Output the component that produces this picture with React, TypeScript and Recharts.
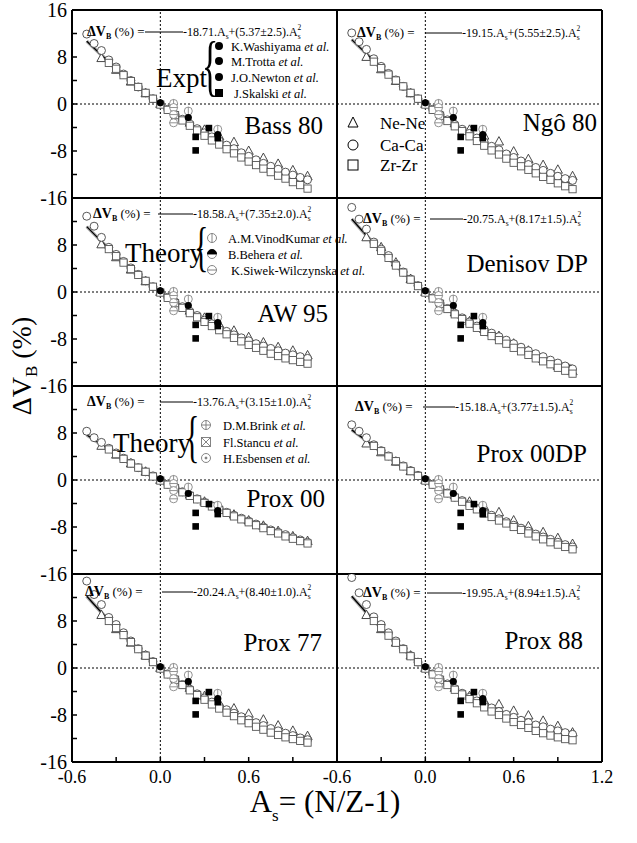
import React from "react";
import { ComposedChart, Scatter, Line, XAxis, YAxis, ReferenceLine } from "recharts";

// As = N/Z - 1 values of the isotopes in each system
const fitAs = [-0.5, -0.4, -0.3, -0.2, -0.1, 0, 0.1, 0.2, 0.3, 0.4, 0.5, 0.6, 0.7, 0.8, 0.9, 1.0];
const neAs = [-0.4, -0.3, -0.2, -0.1, 0, 0.1, 0.2, 0.3, 0.4, 0.5, 0.6, 0.7, 0.8, 0.9, 1.0];
const caAs = [-0.5, -0.45, -0.4, -0.35, -0.3, -0.25, -0.2, -0.15, -0.1, -0.05, 0, 0.05, 0.1, 0.15, 0.2, 0.25, 0.3, 0.35, 0.4, 0.45, 0.5, 0.55, 0.6, 0.65, 0.7, 0.75, 0.8, 0.85, 0.9, 0.95, 1.0];
const zrAs = [-0.35, -0.3, -0.25, -0.2, -0.15, -0.1, -0.05, 0, 0.05, 0.1, 0.15, 0.2, 0.25, 0.3, 0.35, 0.4, 0.45, 0.5, 0.55, 0.6, 0.65, 0.7, 0.75, 0.8, 0.85, 0.9, 0.95, 1.0];

// Bass 80
const bassFit = [10.7, 8.34, 6.1, 3.96, 1.92, 0, -1.82, -3.53, -5.13, -6.62, -8.01, -9.29, -10.47, -11.53, -12.49, -13.34];
const bassNe = [7.8, 5.8, 3.8, 1.8, 0.0, -1.7, -3.2, -4.4, -5.5, -6.5, -8.0, -9.2, -10.2, -11.3, -12.3];
const bassCa = [11.9, 10.3, 9.1, 7.5, 6.3, 5.1, 4.0, 2.9, 1.9, 0.9, 0.0, -0.9, -1.8, -2.6, -3.4, -4.2, -4.9, -5.6, -6.3, -7.0, -7.6, -8.3, -8.9, -9.5, -10.1, -10.6, -11.1, -11.6, -12.1, -12.5, -12.9];
const bassZr = [7.0, 6.0, 4.9, 3.9, 2.9, 1.9, 0.9, -0.1, -1.0, -1.9, -2.8, -3.7, -4.5, -5.4, -6.2, -6.9, -7.7, -8.4, -9.1, -9.8, -10.4, -11.0, -11.6, -12.2, -12.7, -13.3, -13.8, -14.4];

// Ngo 80
const ngoFit = [10.96, 8.55, 6.24, 4.05, 1.97, 0, -1.86, -3.61, -5.25, -6.77, -8.19, -9.49, -10.69, -11.77, -12.74, -13.6];
const ngoNe = [8.0, 5.9, 3.9, 1.8, 0.0, -1.7, -3.3, -4.4, -5.4, -6.4, -8.1, -9.4, -10.4, -11.2, -12.3];
const ngoCa = [12.1, 10.6, 9.3, 7.7, 6.4, 5.2, 4.1, 3.0, 1.9, 0.9, 0.0, -0.9, -1.8, -2.7, -3.5, -4.3, -5.0, -5.8, -6.5, -7.2, -7.8, -8.5, -9.1, -9.7, -10.3, -10.8, -11.3, -11.8, -12.3, -12.7, -13.0];
const ngoZr = [7.2, 6.1, 5.0, 4.0, 3.0, 1.9, 0.9, -0.1, -1.0, -2.0, -2.9, -3.8, -4.6, -5.5, -6.3, -7.1, -7.9, -8.6, -9.3, -10.0, -10.6, -11.2, -11.8, -12.4, -12.9, -13.5, -14.0, -14.5];

// AW 95
const awFit = [11.13, 8.61, 6.24, 4.01, 1.93, 0, -1.78, -3.42, -4.91, -6.26, -7.45, -8.5, -9.4, -10.16, -10.77, -11.23];
const awNe = [8.1, 5.9, 3.8, 1.8, 0.0, -1.6, -3.2, -4.4, -5.5, -6.6, -7.7, -8.6, -9.4, -10.0, -10.8];
const awCa = [12.9, 11.2, 9.3, 7.6, 6.4, 5.2, 4.1, 3.0, 1.9, 0.9, 0.0, -0.9, -1.7, -2.5, -3.3, -4.0, -4.8, -5.4, -6.1, -6.7, -7.3, -7.8, -8.3, -8.8, -9.2, -9.6, -10.0, -10.4, -10.7, -11.0, -11.3];
const awZr = [7.3, 6.1, 5.0, 3.9, 2.9, 1.9, 0.9, -0.1, -1.0, -1.9, -2.7, -3.6, -4.3, -5.1, -5.8, -6.5, -7.2, -7.8, -8.4, -9.0, -9.5, -10.0, -10.5, -10.9, -11.3, -11.6, -11.9, -12.2];

// Denisov DP
const denFit = [12.42, 9.61, 6.96, 4.48, 2.16, 0, -1.99, -3.82, -5.49, -6.99, -8.33, -9.51, -10.52, -11.37, -12.06, -12.58];
const denNe = [9.3, 7.6, 5.0, 2.2, 0.0, -1.8, -3.5, -5.0, -6.3, -7.5, -8.8, -10.0, -11.4, -12.6, -13.5];
const denCa = [14.4, 12.4, 10.7, 8.5, 7.3, 6.2, 4.7, 3.4, 2.2, 1.1, 0.0, -1.0, -1.9, -2.8, -3.6, -4.4, -5.1, -5.8, -6.4, -7.0, -7.6, -8.2, -8.8, -9.4, -10.0, -10.5, -11.0, -11.6, -12.1, -12.6, -13.1];
const denZr = [8.2, 7.0, 5.8, 4.5, 3.3, 2.1, 1.0, -0.1, -1.1, -2.0, -2.9, -3.8, -4.6, -5.4, -6.1, -6.8, -7.5, -8.2, -8.8, -9.5, -10.1, -10.7, -11.3, -11.8, -12.3, -12.9, -13.4, -13.9];

// Prox 00
const p00Fit = [7.67, 6.01, 4.41, 2.88, 1.41, 0, -1.34, -2.63, -3.84, -5.0, -6.09, -7.12, -8.09, -8.99, -9.83, -10.61];
const p00Ne = [5.8, 4.3, 2.8, 1.4, 0.0, -1.3, -2.5, -3.7, -4.8, -5.9, -6.9, -7.8, -8.7, -9.6, -10.4];
const p00Ca = [8.3, 7.2, 6.4, 5.4, 4.6, 3.7, 2.9, 2.1, 1.4, 0.7, 0.0, -0.7, -1.3, -2.0, -2.6, -3.2, -3.8, -4.4, -4.9, -5.5, -6.0, -6.5, -7.0, -7.5, -8.0, -8.5, -8.9, -9.3, -9.8, -10.2, -10.6];
const p00Zr = [5.2, 4.4, 3.6, 2.8, 2.1, 1.4, 0.6, -0.1, -0.8, -1.4, -2.1, -2.7, -3.3, -3.9, -4.5, -5.1, -5.6, -6.2, -6.7, -7.2, -7.7, -8.2, -8.7, -9.1, -9.6, -10.0, -10.4, -10.8];

// Prox 00DP
const pdpFit = [8.53, 6.68, 4.89, 3.19, 1.56, 0, -1.48, -2.89, -4.22, -5.47, -6.65, -7.75, -8.78, -9.73, -10.61, -11.41];
const pdpNe = [6.2, 4.7, 3.1, 1.5, 0.0, -1.3, -2.6, -3.7, -4.6, -5.5, -6.9, -7.9, -8.9, -9.9, -10.9];
const pdpCa = [9.4, 8.3, 7.2, 6.0, 5.0, 4.1, 3.2, 2.4, 1.6, 0.8, 0.0, -0.7, -1.5, -2.2, -2.9, -3.5, -4.2, -4.8, -5.4, -6.0, -6.6, -7.1, -7.7, -8.2, -8.7, -9.2, -9.7, -10.1, -10.6, -11.0, -11.4];
const pdpZr = [5.8, 4.9, 4.0, 3.2, 2.3, 1.5, 0.7, -0.1, -0.8, -1.6, -2.3, -3.0, -3.7, -4.4, -5.0, -5.7, -6.3, -6.9, -7.4, -8.0, -8.5, -9.1, -9.6, -10.1, -10.6, -11.0, -11.4, -11.8];

// Prox 77
const p77Fit = [12.22, 9.44, 6.83, 4.38, 2.11, 0, -1.94, -3.71, -5.32, -6.75, -8.02, -9.12, -10.05, -10.82, -11.41, -11.84];
const p77Ne = [9.0, 6.6, 4.3, 2.1, 0.0, -1.8, -3.4, -4.8, -6.0, -6.9, -7.8, -8.8, -9.8, -10.7, -11.6];
const p77Ca = [14.8, 12.5, 10.8, 8.6, 7.4, 6.0, 4.6, 3.3, 2.2, 1.1, 0.0, -1.0, -1.9, -2.8, -3.6, -4.4, -5.1, -5.8, -6.5, -7.1, -7.7, -8.3, -8.8, -9.3, -9.8, -10.3, -10.7, -11.1, -11.5, -11.9, -12.2];
const p77Zr = [8.0, 6.8, 5.6, 4.4, 3.2, 2.1, 1.0, -0.1, -1.1, -2.0, -2.9, -3.8, -4.6, -5.4, -6.2, -6.9, -7.6, -8.2, -8.9, -9.4, -10.0, -10.5, -11.0, -11.4, -11.8, -12.1, -12.4, -12.7];

// Prox 88
const p88Fit = [12.21, 9.41, 6.79, 4.35, 2.08, 0, -1.91, -3.63, -5.18, -6.55, -7.74, -8.75, -9.58, -10.24, -10.71, -11.01];
const p88Ne = [9.0, 6.6, 4.3, 2.1, 0.0, -1.8, -3.4, -4.8, -5.6, -6.2, -7.3, -8.1, -9.0, -9.9, -11.0];
const p88Ca = [15.4, 12.8, 10.8, 8.7, 7.4, 6.0, 4.6, 3.3, 2.1, 1.0, 0.0, -1.0, -1.9, -2.7, -3.5, -4.3, -5.0, -5.6, -6.3, -6.8, -7.4, -7.9, -8.4, -8.9, -9.3, -9.7, -10.0, -10.4, -10.7, -11.0, -11.3];
const p88Zr = [8.0, 6.8, 5.5, 4.3, 3.2, 2.0, 1.0, -0.1, -1.1, -2.0, -2.9, -3.7, -4.5, -5.3, -6.0, -6.7, -7.4, -8.0, -8.6, -9.2, -9.7, -10.2, -10.7, -11.1, -11.5, -11.8, -12.1, -12.3];

// experimental and other-theory points (same in every panel)
const exptCircAs = [0.0, 0.19, 0.39];
const exptCircV = [0.2, -2.3, -5.2];
const exptSqAs = [0.24, 0.24, 0.33, 0.39];
const exptSqV = [-5.6, -7.9, -4.1, -5.8];
const thVertAs = [0.09, 0.19, 0.39];
const thVertV = [0.1, -1.2, -4.3];
const thHorAs = [0.09, 0.09, 0.09];
const thHorV = [-0.6, -1.8, -3.2];

const xTicks = [-0.6, -0.3, 0, 0.3, 0.6, 0.9, 1.2];
const yTicks = [-16, -12, -8, -4, 0, 4, 8, 12, 16];

const zip = (xs: number[], ys: number[]) => xs.map((x, i) => ({ x, y: ys[i] }));

const panels = [
  { name: "Bass 80", row: 0, col: 0, fit: bassFit, ne: bassNe, ca: bassCa, zr: bassZr, b: "-18.71", a: "5.37±2.5" },
  { name: "Ngô 80", row: 0, col: 1, fit: ngoFit, ne: ngoNe, ca: ngoCa, zr: ngoZr, b: "-19.15", a: "5.55±2.5" },
  { name: "AW 95", row: 1, col: 0, fit: awFit, ne: awNe, ca: awCa, zr: awZr, b: "-18.58", a: "7.35±2.0" },
  { name: "Denisov DP", row: 1, col: 1, fit: denFit, ne: denNe, ca: denCa, zr: denZr, b: "-20.75", a: "8.17±1.5" },
  { name: "Prox 00", row: 2, col: 0, fit: p00Fit, ne: p00Ne, ca: p00Ca, zr: p00Zr, b: "-13.76", a: "3.15±1.0" },
  { name: "Prox 00DP", row: 2, col: 1, fit: pdpFit, ne: pdpNe, ca: pdpCa, zr: pdpZr, b: "-15.18", a: "3.77±1.5" },
  { name: "Prox 77", row: 3, col: 0, fit: p77Fit, ne: p77Ne, ca: p77Ca, zr: p77Zr, b: "-20.24", a: "8.40±1.0" },
  { name: "Prox 88", row: 3, col: 1, fit: p88Fit, ne: p88Ne, ca: p88Ca, zr: p88Zr, b: "-19.95", a: "8.94±1.5" },
];

// text placement of each panel's annotations
const formulaPos = [
  [87, 36, 145, 183], [357, 37, 425, 462], [93, 218, 158, 193], [363, 223, 430, 463],
  [87, 406, 160, 193], [355, 411, 423, 455], [85, 596, 162, 193], [363, 597, 427, 462],
];
const namePos = [
  [323, 134], [597, 131], [328, 322], [588, 272], [325, 507], [587, 462], [322, 651], [583, 649],
];

const PW = 265;
const PH = 188;
const LW = 40;
const RW = 40;
const MT = 12;
const COLX = [72, 337];
const ROWY = [10, 198, 386, 574];

const Tri = (p: any) => (
  <polygon points={`${p.cx},${p.cy - 5} ${p.cx - 4.6},${p.cy + 3.4} ${p.cx + 4.6},${p.cy + 3.4}`} fill="#fff" stroke="#333" strokeWidth={0.9} />
);
const Circ = (p: any) => <circle cx={p.cx} cy={p.cy} r={4} fill="#fff" stroke="#444" strokeWidth={0.9} />;
const Sq = (p: any) => <rect x={p.cx - 3.6} y={p.cy - 3.6} width={7.2} height={7.2} fill="#fff" stroke="#555" strokeWidth={0.9} />;
const ThVert = (p: any) => (
  <g stroke="#777" strokeWidth={0.8} fill="none">
    <circle cx={p.cx} cy={p.cy} r={4} fill="#fff" />
    <line x1={p.cx} x2={p.cx} y1={p.cy - 4} y2={p.cy + 4} />
  </g>
);
const ThHor = (p: any) => (
  <g stroke="#777" strokeWidth={0.8} fill="none">
    <circle cx={p.cx} cy={p.cy} r={4} fill="#fff" />
    <line x1={p.cx - 4} x2={p.cx + 4} y1={p.cy} y2={p.cy} />
  </g>
);
const ExCirc = (p: any) => <circle cx={p.cx} cy={p.cy} r={3.6} fill="#000" />;
const ExSq = (p: any) => <rect x={p.cx - 3.3} y={p.cy - 3.3} width={6.6} height={6.6} fill="#000" />;

const axisLine = { stroke: "#000", strokeWidth: 2 };
const tickLine = { stroke: "#000", strokeWidth: 1.5 };

function Panel({ p }: { p: any }) {
  const bottomRow = p.row === 3;
  const BH = bottomRow ? 30 : 1;
  const isLeft = p.col === 0;
  const yFmt = (v: number) =>
    v === -16 || v === -8 || v === 0 || v === 8 || (v === 16 && p.row === 0) ? String(v) : "";
  const xLabels = isLeft ? [-0.6, 0, 0.6] : [-0.6, 0, 0.6, 1.2];
  const xFmt = (v: number) => (xLabels.some((l) => Math.abs(l - v) < 1e-6) ? v.toFixed(1) : "");
  const yTickStyle = { fill: "#000", fontSize: 20 };
  return (
    <div style={{ position: "absolute", left: COLX[p.col] - LW, top: ROWY[p.row] - MT }}>
      <ComposedChart
        width={LW + PW + RW}
        height={MT + PH + BH + 12}
        margin={{ top: MT - 1, right: 0, bottom: 12, left: 0 }}
      >
        <XAxis
          type="number" dataKey="x" domain={[-0.6, 1.2]} ticks={xTicks} interval={0} allowDataOverflow
          orientation="bottom" height={BH} axisLine={axisLine} tickLine={tickLine} tickSize={-5} tickMargin={13}
          tick={bottomRow ? { fill: "#000", fontSize: 18 } : false} tickFormatter={xFmt}
        />
        <XAxis
          xAxisId="top" type="number" dataKey="x" domain={[-0.6, 1.2]} ticks={xTicks} interval={0}
          orientation="top" height={1} axisLine={axisLine} tickLine={tickLine} tickSize={-5} tick={false}
        />
        <YAxis
          type="number" dataKey="y" domain={[-16, 16]} ticks={yTicks} interval={0} allowDataOverflow
          orientation="left" width={LW} axisLine={axisLine} tickLine={tickLine} tickSize={-5} tickMargin={10}
          tick={isLeft ? yTickStyle : false} tickFormatter={yFmt}
        />
        <YAxis
          yAxisId="right" type="number" dataKey="y" domain={[-16, 16]} ticks={yTicks} interval={0}
          orientation="right" width={RW} axisLine={axisLine} tickLine={tickLine} tickSize={-5} tickMargin={12}
          tick={isLeft ? false : yTickStyle} tickFormatter={yFmt}
        />
        <ReferenceLine y={0} stroke="#000" strokeWidth={1} strokeDasharray="2 2" />
        <ReferenceLine x={0} stroke="#000" strokeWidth={1} strokeDasharray="2 2" />
        <Line data={zip(fitAs, p.fit)} dataKey="y" type="monotone" stroke="#b0b0b0" strokeWidth={3.5} dot={false} isAnimationActive={false} />
        <Line data={zip(fitAs, p.fit)} dataKey="y" type="monotone" stroke="#000" strokeWidth={1.3} dot={false} isAnimationActive={false} />
        <Scatter data={zip(neAs, p.ne)} shape={Tri} isAnimationActive={false} />
        <Scatter data={zip(caAs, p.ca)} shape={Circ} isAnimationActive={false} />
        <Scatter data={zip(zrAs, p.zr)} shape={Sq} isAnimationActive={false} />
        <Scatter data={zip(thVertAs, thVertV)} shape={ThVert} isAnimationActive={false} />
        <Scatter data={zip(thHorAs, thHorV)} shape={ThHor} isAnimationActive={false} />
        <Scatter data={zip(exptSqAs, exptSqV)} shape={ExSq} isAnimationActive={false} />
        <Scatter data={zip(exptCircAs, exptCircV)} shape={ExCirc} isAnimationActive={false} />
      </ComposedChart>
    </div>
  );
}

function Formula({ pos, b, a }: { pos: number[]; b: string; a: string }) {
  const [x, y, l1, l2] = pos;
  return (
    <g>
      <text x={x} y={y} fontSize={14}>
        <tspan fontWeight="bold">ΔV</tspan>
        <tspan fontWeight="bold" fontSize={8} dy={3}>B</tspan>
        <tspan fontSize={13} dy={-3}> (%) =</tspan>
      </text>
      <line x1={l1} x2={l2} y1={y - 4} y2={y - 4} stroke="#000" strokeWidth={1} />
      <text x={l2} y={y} fontSize={12}>
        {b}.A<tspan fontSize={7.5} dy={2.5}>s</tspan>
        <tspan dy={-2.5}>+({a}).A</tspan>
        <tspan fontSize={7.5} dy={2.5}>s</tspan>
        <tspan fontSize={7.5} dx={-3} dy={-9}>2</tspan>
      </text>
    </g>
  );
}

function Brace({ x, y, fs, sy }: { x: number; y: number; fs: number; sy: number }) {
  return (
    <text transform={`translate(${x},${y}) scale(1,${sy})`} fontSize={fs}>
      {"{"}
    </text>
  );
}

function Ref({ x, y, name, dx = 0 }: { x: number; y: number; name: string; dx?: number }) {
  return (
    <text x={x + dx} y={y + 4.5} fontSize={12.5}>
      {name}
      <tspan fontStyle="italic">et al.</tspan>
    </text>
  );
}

function Overlay() {
  const g = "#777";
  return (
    <svg width={637} height={843} style={{ position: "absolute", left: 0, top: 0, pointerEvents: "none" }}>
      {panels.map((p, i) => (
        <Formula key={"f" + i} pos={formulaPos[i]} b={p.b} a={p.a} />
      ))}
      {panels.map((p, i) => (
        <text key={"n" + i} x={namePos[i][0]} y={namePos[i][1]} fontSize={25} textAnchor="end">
          {p.name}
        </text>
      ))}

      {/* Expt legend */}
      <text x={156} y={87} fontSize={27}>Expt</text>
      <Brace x={202} y={88} fs={34} sy={2} />
      <circle cx={219} cy={46} r={4} fill="#000" />
      <circle cx={219} cy={61} r={4} fill="#000" />
      <circle cx={219} cy={77} r={4} fill="#000" />
      <rect x={215} y={89} width={8} height={8} fill="#000" />
      <Ref x={231} y={46} name="K.Washiyama " />
      <Ref x={231} y={61} name="M.Trotta " />
      <Ref x={231} y={77} name="J.O.Newton " />
      <Ref x={231} y={93} name="J.Skalski " dx={3} />

      {/* system legend */}
      <polygon points="353,117 348,127 358,127" fill="#fff" stroke="#000" strokeWidth={1} />
      <circle cx={353} cy={145} r={5} fill="#fff" stroke="#000" strokeWidth={1} />
      <rect x={348} y={160} width={10} height={10} fill="#fff" stroke="#000" strokeWidth={1} />
      <text x={380} y={129} fontSize={17}>Ne-Ne</text>
      <text x={380} y={151} fontSize={17}>Ca-Ca</text>
      <text x={380} y={171} fontSize={17}>Zr-Zr</text>

      {/* Theory legend 1 */}
      <text x={125} y={262} fontSize={27}>Theory</text>
      <Brace x={194} y={265} fs={30} sy={1.8} />
      <g stroke={g} strokeWidth={0.9} fill="#fff">
        <circle cx={212} cy={238} r={4.5} />
        <line x1={212} x2={212} y1={233.5} y2={242.5} />
        <circle cx={212} cy={254} r={4.5} />
        <path d="M207.5,254 A4.5,4.5 0 0 1 216.5,254 Z" fill="#000" stroke="#000" />
        <circle cx={212} cy={270} r={4.5} />
        <line x1={207.5} x2={216.5} y1={270} y2={270} />
      </g>
      <Ref x={228} y={238} name="A.M.VinodKumar " />
      <Ref x={228} y={254} name="B.Behera " />
      <Ref x={228} y={270} name="K.Siwek-Wilczynska " dx={3} />

      {/* Theory legend 2 */}
      <text x={113} y={452} fontSize={27}>Theory</text>
      <Brace x={185} y={456} fs={30} sy={1.9} />
      <g stroke={g} strokeWidth={0.9} fill="#fff">
        <circle cx={206} cy={425} r={4.5} />
        <line x1={206} x2={206} y1={420.5} y2={429.5} />
        <line x1={201.5} x2={210.5} y1={425} y2={425} />
        <rect x={201.5} y={437.5} width={9} height={9} />
        <line x1={201.5} x2={210.5} y1={437.5} y2={446.5} />
        <line x1={210.5} x2={201.5} y1={437.5} y2={446.5} />
        <circle cx={206} cy={458} r={4.5} />
        <circle cx={206} cy={458} r={1} fill={g} />
      </g>
      <Ref x={223} y={425} name="D.M.Brink " />
      <Ref x={223} y={442} name="Fl.Stancu " />
      <Ref x={223} y={458} name="H.Esbensen " />

      {/* axis titles */}
      <text transform="translate(31,366) rotate(-90)" fontSize={28} textAnchor="middle">
        ΔV<tspan fontSize={17} dy={6}>B</tspan>
        <tspan dy={-6}> (%)</tspan>
      </text>
      <text x={325} y={812} fontSize={31} textAnchor="middle">
        A<tspan fontSize={17} dy={9}>s</tspan>
        <tspan dy={-9}>= (N/Z-1)</tspan>
      </text>
    </svg>
  );
}

export default function App() {
  return (
    <div
      style={{
        position: "absolute", left: 0, top: 0, width: 637, height: 843, overflow: "hidden",
        background: "#fff", fontFamily: "'Liberation Serif', 'Times New Roman', serif",
      }}
    >
      {panels.map((p, i) => (
        <Panel key={i} p={p} />
      ))}
      <Overlay />
    </div>
  );
}
